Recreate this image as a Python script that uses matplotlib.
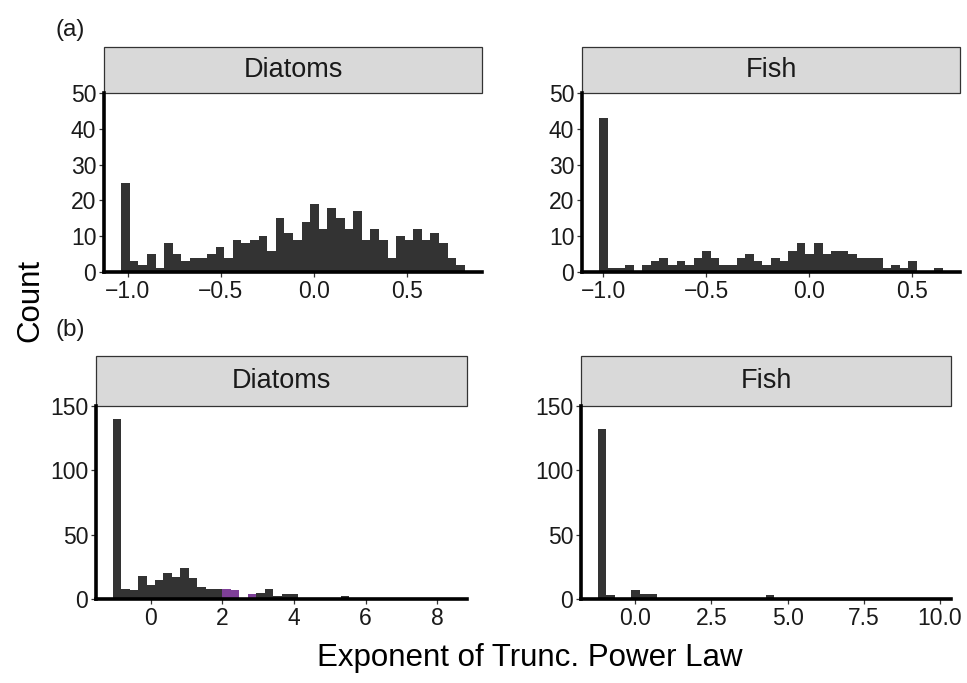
import numpy as np
import matplotlib
matplotlib.use("Agg")
import matplotlib.pyplot as plt
from matplotlib.patches import Rectangle

plt.rcParams['font.family'] = ['Liberation Sans', 'DejaVu Sans']

# ---- (a) histograms ------------------------------------------------------
diatoms_a_start = -1.035
diatoms_a_width = 0.0462
diatoms_a_counts = [25, 3, 2, 5, 1, 8, 5, 3, 4, 4, 5, 7, 4, 9, 8, 9, 10, 6, 15, 11,
                    9, 14, 19, 12, 18, 15, 12, 17, 9, 12, 9, 4, 10, 9, 12, 9, 11, 8, 4, 2]

fish_a_start = -1.0208
fish_a_width = 0.0417
fish_a_counts = [43, 1, 1, 2, 0, 2, 3, 4, 2, 3, 2, 4, 6, 4, 2, 2, 4, 5, 3, 2,
                 4, 3, 6, 8, 5, 8, 5, 6, 6, 5, 4, 4, 4, 1, 2, 1, 3, 0, 0, 1]

# ---- (b) histograms ------------------------------------------------------
diatoms_b_start = -1.057
diatoms_b_width = 0.2355
diatoms_b_counts = [140, 8, 7, 18, 11, 15, 20, 17, 24, 16, 9, 8, 8, 8, 7, 1, 4, 5, 8, 2,
                    4, 4, 1, 1, 1, 0, 1, 2, 1, 0, 0, 1, 0, 0, 1, 0, 0, 1, 0, 1]

fish_b_start = -1.228
fish_b_width = 0.276
fish_b_counts = [132, 3, 1, 0, 7, 4, 4, 0, 0, 0, 1, 0, 0, 0, 0, 0, 0, 0, 0, 0,
                 3, 0, 0, 0, 0, 0, 0, 0, 0, 0, 0, 0, 0, 0, 0, 0, 0, 0, 0, 1]

bar_col = '#333333'
hi_col = '#7E3F98'   # exponents between 2 and 3
strip_fill = '#D9D9D9'

W, H = 967, 683
fig = plt.figure(figsize=(W / 100, H / 100), dpi=100)


def px_axes(x0, x1, ytop, ybot):
    return fig.add_axes([x0 / W, 1 - ybot / H, (x1 - x0) / W, (ybot - ytop) / H])


def histo(ax, start, width, counts, ymax, yticks, xticks, xlabels, strip, strip_h, highlight=None):
    counts = np.array(counts)
    edges = start + width * np.arange(len(counts))
    cols = [bar_col] * len(counts)
    if highlight is not None:
        centres = edges + width / 2
        cols = [hi_col if highlight[0] < c < highlight[1] else bar_col for c in centres]
    ax.bar(edges, counts, width=width, align='edge', color=cols, linewidth=0)

    lo, hi = edges[0], edges[-1] + width
    pad = 0.05 * (hi - lo)
    ax.set_xlim(lo - pad, hi + pad)
    ax.set_ylim(0, ymax)
    ax.set_yticks(yticks)
    ax.set_xticks(xticks)
    ax.set_xticklabels(xlabels)

    for s in ['top', 'right']:
        ax.spines[s].set_visible(False)
    for s in ['left', 'bottom']:
        ax.spines[s].set_linewidth(2.6)
        ax.spines[s].set_color('black')
        ax.spines[s].set_capstyle('projecting')
    ax.tick_params(direction='out', length=3.5, width=0.9, color='#333333',
                   labelsize=16.5, labelcolor='#1a1a1a', pad=2)

    # facet strip on top of the panel
    bb = ax.get_position()
    h = strip_h / (bb.height * H)
    ax.add_patch(Rectangle((0, 1), 1, h, transform=ax.transAxes, clip_on=False,
                           facecolor=strip_fill, edgecolor='#333333', linewidth=0.9))
    ax.text(0.5, 1 + h / 2, strip, transform=ax.transAxes, ha='center', va='center',
            fontsize=19.5, color='#1a1a1a')


ax1 = px_axes(104, 482, 93, 272)
histo(ax1, diatoms_a_start, diatoms_a_width, diatoms_a_counts, 50, [0, 10, 20, 30, 40, 50],
      [-1.0, -0.5, 0.0, 0.5], ['\u22121.0', '\u22120.5', '0.0', '0.5'], 'Diatoms', 46)

ax2 = px_axes(582, 960, 93, 272)
histo(ax2, fish_a_start, fish_a_width, fish_a_counts, 50, [0, 10, 20, 30, 40, 50],
      [-1.0, -0.5, 0.0, 0.5], ['\u22121.0', '\u22120.5', '0.0', '0.5'], 'Fish', 46)

ax3 = px_axes(96, 467, 406, 599)
histo(ax3, diatoms_b_start, diatoms_b_width, diatoms_b_counts, 150, [0, 50, 100, 150],
      [0, 2, 4, 6, 8], ['0', '2', '4', '6', '8'], 'Diatoms', 50, highlight=(2, 3))

ax4 = px_axes(581, 951, 406, 599)
histo(ax4, fish_b_start, fish_b_width, fish_b_counts, 150, [0, 50, 100, 150],
      [0, 2.5, 5, 7.5, 10], ['0.0', '2.5', '5.0', '7.5', '10.0'], 'Fish', 50)

fig.text(70 / W, 1 - 30 / H, '(a)', ha='center', va='center', fontsize=17.5, color='#1a1a1a')
fig.text(70 / W, 1 - 330 / H, '(b)', ha='center', va='center', fontsize=17.5, color='#1a1a1a')
fig.text(30 / W, 1 - 300 / H, 'Count', rotation=90, ha='center', va='center', fontsize=22.5)
fig.text(530 / W, 1 - 658 / H, 'Exponent of Trunc. Power Law', ha='center', va='center',
         fontsize=22.5)

plt.savefig('out.png', dpi=100)
